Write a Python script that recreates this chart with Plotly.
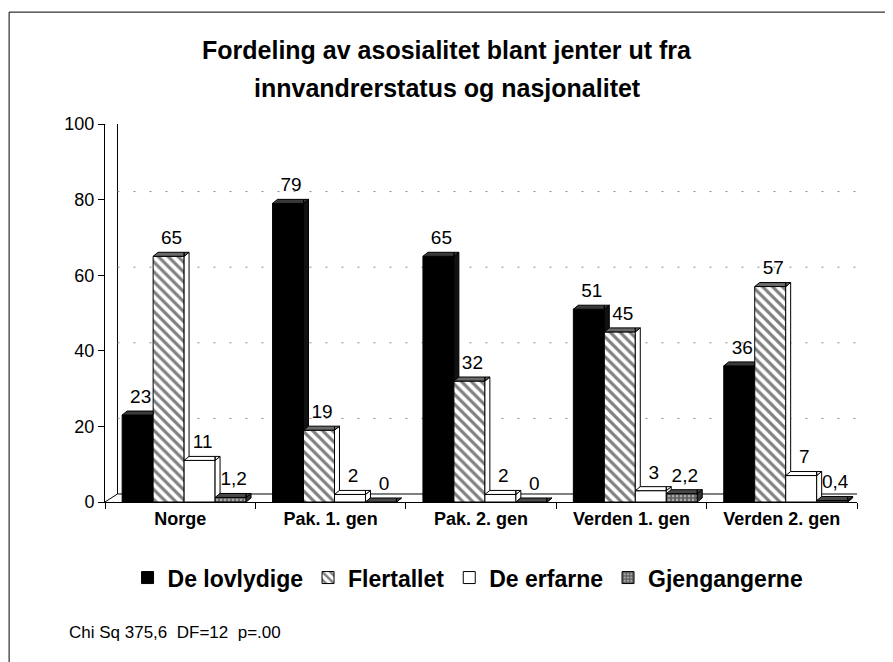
import plotly.graph_objects as go

categories = ["Norge", "Pak. 1. gen", "Pak. 2. gen", "Verden 1. gen", "Verden 2. gen"]
series_names = ["De lovlydige", "Flertallet", "De erfarne", "Gjengangerne"]
lovlydige = [23, 79, 65, 51, 36]
flertallet = [65, 19, 32, 45, 57]
erfarne = [11, 2, 2, 3, 7]
gjengangerne = [1.2, 0, 0, 2.2, 0.4]
y_ticks = [0, 20, 40, 60, 80, 100]

series_values = [lovlydige, flertallet, erfarne, gjengangerne]

FONT = "Liberation Sans, Arial, sans-serif"

# geometry (axis units)
BAR_W = 0.206
GROUP_OFF = -0.386
DXB, DYB = 0.033, 1.06      # bar depth
DXW, DYW = 0.083, 2.12      # wall depth

fronts = [
    dict(color="black", pattern=None),
    dict(color="white", pattern=dict(shape="\\", fgcolor="black", bgcolor="white", size=7, solidity=0.45)),
    dict(color="white", pattern=None),
    dict(color="#222", pattern=dict(shape="+", fgcolor="#111", bgcolor="#aaa", size=4, solidity=0.65)),
]
tops = ["#3a3a3a", "#6a6a6a", "white", "#4a4a4a"]
sides = ["#111111", "#ffffff", "white", "#333333"]


def fmt(v):
    return str(int(v)) if float(v).is_integer() else str(v).replace(".", ",")


def clip_above(poly, c):
    if c is None:
        return poly
    out = []
    n = len(poly)
    for i in range(n):
        P, Q = poly[i], poly[(i + 1) % n]
        pin, qin = P[1] >= c, Q[1] >= c
        if pin:
            out.append(P)
        if pin != qin:
            t = (c - P[1]) / (Q[1] - P[1])
            out.append((P[0] + t * (Q[0] - P[0]), c))
    return out


fig = go.Figure()

# front faces (real bars)
for j, (name, vals) in enumerate(zip(series_names, series_values)):
    m = dict(color=fronts[j]["color"], line=dict(color="black", width=1))
    if fronts[j]["pattern"]:
        m["pattern"] = fronts[j]["pattern"]
    fig.add_trace(go.Bar(
        x=list(range(len(categories))), y=vals, name=name,
        width=BAR_W, offset=GROUP_OFF + j * BAR_W,
        marker=m, hoverinfo="x+y",
    ))

# 3D top and side faces built from values
for j, vals in enumerate(series_values):
    sx, sy, tx, ty = [], [], [], []
    for i, v in enumerate(vals):
        xl = i + GROUP_OFF + j * BAR_W
        xr = xl + BAR_W
        vnext = series_values[j + 1][i] if j + 1 < len(series_values) else None
        side = [(xr, 0), (xr + DXB, DYB), (xr + DXB, v + DYB), (xr, v)]
        topl = [(xl, v), (xr, v), (xr, v + DYB), (xl + DXB, v + DYB)]
        topr = [(xr, v), (xr + DXB, v + DYB), (xr, v + DYB)]
        side = clip_above(side, vnext)
        topr = clip_above(topr, vnext)
        if len(side) >= 3:
            for p in side + [side[0]]:
                sx.append(p[0]); sy.append(p[1])
            sx.append(None); sy.append(None)
        for poly in (topl, topr):
            if len(poly) >= 3:
                for p in poly + [poly[0]]:
                    tx.append(p[0]); ty.append(p[1])
                tx.append(None); ty.append(None)
    fig.add_trace(go.Scatter(x=sx, y=sy, mode="lines", fill="toself", fillcolor=sides[j],
                             line=dict(color="black", width=1), showlegend=False, hoverinfo="skip"))
    fig.add_trace(go.Scatter(x=tx, y=ty, mode="lines", fill="toself", fillcolor=tops[j],
                             line=dict(color="black", width=1), showlegend=False, hoverinfo="skip"))

# value labels
lx, ly, lt = [], [], []
for j, vals in enumerate(series_values):
    for i, v in enumerate(vals):
        lx.append(i + GROUP_OFF + (j + 0.5) * BAR_W + 0.02)
        ly.append(v + DYB + 0.9)
        lt.append(fmt(v))
fig.add_trace(go.Scatter(x=lx, y=ly, mode="text", text=lt, textposition="top center",
                         textfont=dict(family=FONT, size=19, color="black"),
                         showlegend=False, hoverinfo="skip"))

# walls, floor and gridlines
x0, x1 = -0.5, len(categories) - 0.5
ymax = y_ticks[-1]
shapes = []
line = dict(color="black", width=1)
shapes.append(dict(type="line", x0=x0, y0=ymax, x1=x0 + DXW, y1=ymax + DYW, line=line, layer="below"))
shapes.append(dict(type="line", x0=x0 + DXW, y0=DYW, x1=x0 + DXW, y1=ymax + DYW, line=line, layer="below"))
shapes.append(dict(type="line", x0=x0 + DXW, y0=ymax + DYW, x1=x1 + DXW, y1=ymax + DYW, line=line, layer="below"))
shapes.append(dict(type="line", x0=x1 + DXW, y0=DYW, x1=x1 + DXW, y1=ymax + DYW, line=dict(color="black", width=1.5), layer="below"))
shapes.append(dict(type="line", x0=x0 + DXW, y0=DYW, x1=x1 + DXW, y1=DYW, line=line, layer="below"))
shapes.append(dict(type="line", x0=x0, y0=0, x1=x0 + DXW, y1=DYW, line=line, layer="below"))
shapes.append(dict(type="line", x0=x1, y0=0, x1=x1 + DXW, y1=DYW, line=line, layer="below"))
for t in y_ticks[1:-1]:
    shapes.append(dict(type="line", x0=x0 + DXW, y0=t + DYW, x1=x1 + DXW, y1=t + DYW,
                       line=dict(color="#8a8a8a", width=1, dash="2px,14px"), layer="below"))
# outer frame
shapes.append(dict(type="rect", xref="paper", yref="paper", x0=-0.1275, y0=-0.53, x1=1.08, y1=1.296,
                   line=dict(color="black", width=1), fillcolor="rgba(0,0,0,0)"))

fig.update_layout(
    width=885, height=654,
    margin=dict(l=97, r=36, t=116, b=160),
    paper_bgcolor="white", plot_bgcolor="white",
    barmode="overlay",
    shapes=shapes,
    font=dict(family=FONT, color="black"),
    showlegend=True,
    legend=dict(orientation="h", x=0.03, xanchor="left", y=-0.2, yanchor="middle",
                font=dict(family=FONT, size=23, color="black", weight="bold"),
                traceorder="normal"),
    annotations=[
        dict(text="<b>Fordeling av asosialitet blant jenter ut fra</b>", xref="paper", yref="paper",
             x=0.455, y=1.196, xanchor="center", yanchor="middle", showarrow=False,
             font=dict(family=FONT, size=25, color="black")),
        dict(text="<b>innvandrerstatus og nasjonalitet</b>", xref="paper", yref="paper",
             x=0.455, y=1.095, xanchor="center", yanchor="middle", showarrow=False,
             font=dict(family=FONT, size=25, color="black")),
        dict(text="Chi Sq 375,6\u00a0\u00a0DF=12\u00a0\u00a0p=.00", xref="paper", yref="paper",
             x=-0.05, y=-0.344, xanchor="left", yanchor="middle", showarrow=False,
             font=dict(family=FONT, size=17, color="black")),
    ],
)
fig.update_xaxes(
    range=[x0, x1], tickvals=list(range(len(categories))), ticktext=categories,
    ticks="", showline=True, linecolor="black", linewidth=1, showgrid=False, zeroline=False,
    tickfont=dict(family=FONT, size=18, color="black", weight="bold"),
    minor=dict(tick0=-0.5, dtick=1, ticks="outside", ticklen=6, tickcolor="black", showgrid=False),
    fixedrange=True,
)
fig.update_yaxes(
    range=[0, ymax], tickvals=y_ticks, ticks="outside", ticklen=6, tickcolor="black",
    showline=True, linecolor="black", linewidth=1, showgrid=False, zeroline=False,
    tickfont=dict(family=FONT, size=18, color="black"), fixedrange=True,
)

fig.write_html("out.html")
